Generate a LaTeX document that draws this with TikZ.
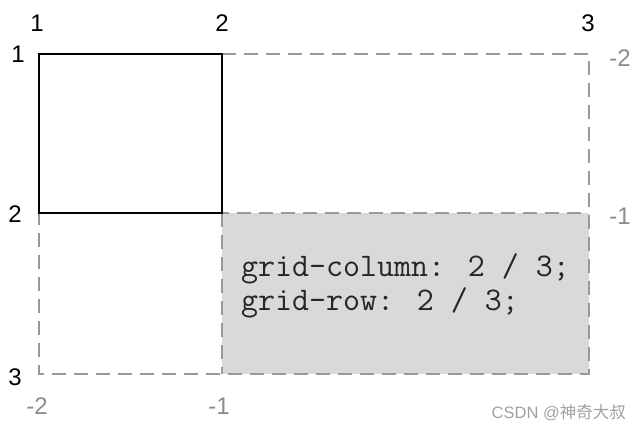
\documentclass[tikz,border=0pt]{standalone}
\usepackage{fontspec}
\setmainfont{Liberation Sans}
\newfontfamily\cjk{Noto Sans CJK SC}
\definecolor{lgray}{HTML}{999999}
\definecolor{tgray}{HTML}{8C8C8C}
\definecolor{fillgray}{HTML}{D9D9D9}
\definecolor{wmgray}{HTML}{A0A0A0}
\begin{document}
\begin{tikzpicture}[x=1pt,y=-1pt,
  dashline/.style={draw=lgray,line width=2.5pt,dash pattern=on 14pt off 8pt},
  solidline/.style={draw=black,line width=2pt},
  blacklbl/.style={font=\fontsize{24}{24}\selectfont,text=black,inner sep=0pt},
  graylbl/.style={font=\fontsize{24}{24}\selectfont,text=tgray,inner sep=0pt},
  codetext/.style={font=\ttfamily\fontsize{33}{33}\selectfont,text=black!85,inner sep=0pt,anchor=base west},
  wm/.style={font=\fontsize{16.5}{16.5}\selectfont,text=wmgray,inner sep=0pt}
]
\useasboundingbox (0,0) rectangle (641,433);
% grid coordinates
\coordinate (a1) at (39,54);
\coordinate (a2) at (222,54);
\coordinate (a3) at (589,54);
\coordinate (b1) at (39,213);
\coordinate (b2) at (222,213);
\coordinate (b3) at (589,213);
\coordinate (c1) at (39,374);
\coordinate (c2) at (222,374);
\coordinate (c3) at (589,374);
% filled area
\fill[fillgray] (b2) rectangle (c3);
% dashed grid lines
\draw[dashline] (a2) -- (a3) -- (c3) -- (c1) -- (b1);
\draw[dashline] (b1) -- (b3);
\draw[dashline] (b2) -- (c2);
% solid item
\draw[solidline] (a1) rectangle (b2);
% code text
\node[codetext] (code1) at (241,277) {grid-column: 2 / 3;};
\node[codetext] (code2) at (241,311) {grid-row: 2 / 3;};
% column line numbers (top)
\node[blacklbl] (t1) at (37,23) {1};
\node[blacklbl] (t2) at (222,23) {2};
\node[blacklbl] (t3) at (588,23) {3};
% row line numbers (left)
\node[blacklbl] (l1) at (18,54) {1};
\node[blacklbl] (l2) at (15,214) {2};
\node[blacklbl] (l3) at (15,377) {3};
% negative numbers
\node[graylbl] (r1) at (620,58) {-2};
\node[graylbl] (r2) at (620,216) {-1};
\node[graylbl] (bt1) at (37,406) {-2};
\node[graylbl] (bt2) at (219,406) {-1};
% watermark
\node[wm,anchor=east] (mark) at (626,413) {CSDN @{\cjk 神奇大叔}};
\end{tikzpicture}
\end{document}
